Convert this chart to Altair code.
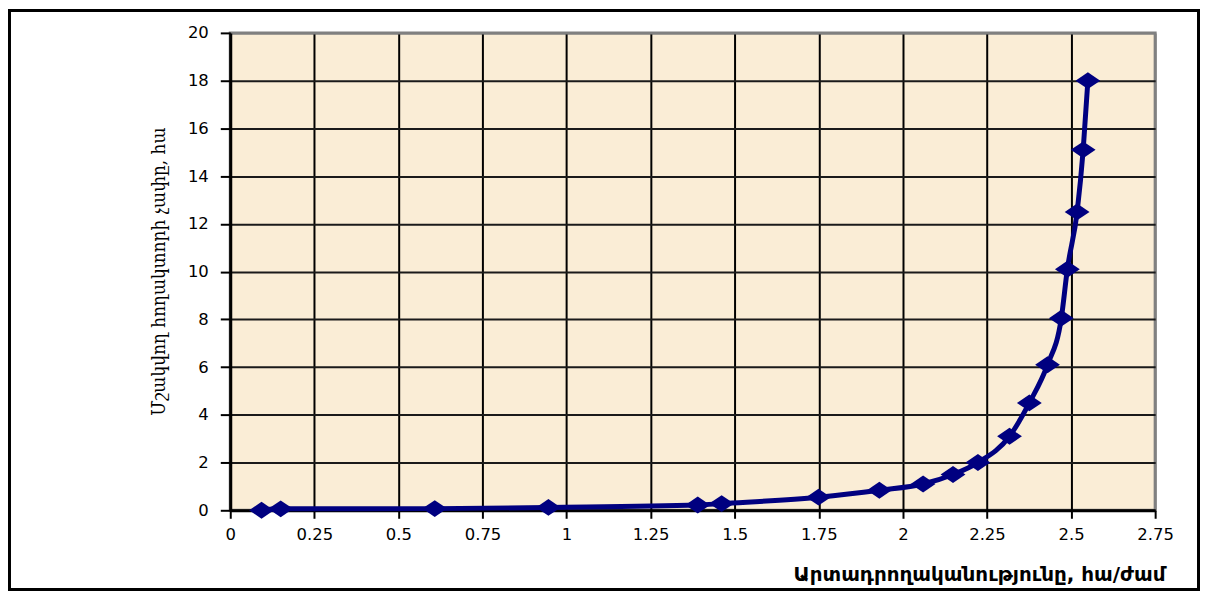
import altair as alt
import pandas as pd

# Productivity (ha/hour) and plot size (ha)
productivity = [0.093, 0.15, 0.608, 0.946, 1.39, 1.461, 1.749, 1.93, 2.06, 2.149,
                2.223, 2.317, 2.376, 2.43, 2.471, 2.489, 2.518, 2.536, 2.55]
plot_size = [0.0, 0.06, 0.07, 0.12, 0.22, 0.28, 0.55, 0.84, 1.1, 1.5,
             2.0, 3.1, 4.5, 6.1, 8.05, 10.1, 12.5, 15.1, 18.0]

x_ticks = [0, 0.25, 0.5, 0.75, 1, 1.25, 1.5, 1.75, 2, 2.25, 2.5, 2.75]
y_ticks = [0, 2, 4, 6, 8, 10, 12, 14, 16, 18, 20]

x_title = "Արտադրողականությունը, հա/ժամ"
y_title = "Մշակվող հողակտորի չափը, հա"

df = pd.DataFrame({"x": productivity, "y": plot_size})

NAVY = "#000080"
PLOT_BG = "#FAEDD6"

x_enc = alt.X(
    "x:Q",
    scale=alt.Scale(domain=[0, 2.75], nice=False, zero=False),
    axis=alt.Axis(
        values=x_ticks, format=".2~f", grid=True,
        gridColor={"condition": {"test": "datum.value >= 2.75", "value": "#808080"}, "value": "#000000"},
        gridWidth=2,
        domainColor="#000000", domainWidth=3,
        tickColor="#000000", tickWidth=2, tickSize=8,
        labelFont="DejaVu Sans", labelFontSize=16.5, labelColor="#000000", labelPadding=8,
        labelFlush=False,
        title=x_title, titleFont="DejaVu Sans", titleFontSize=20, titleFontWeight="bold",
        titleColor="#000000", titleX=938, titleY=70, titleAlign="right",
        titleBaseline="alphabetic", titleAnchor="end",
    ),
)
y_enc = alt.Y(
    "y:Q",
    scale=alt.Scale(domain=[0, 20], nice=False),
    axis=alt.Axis(
        values=y_ticks, grid=True,
        gridColor={"condition": {"test": "datum.value >= 20", "value": "#808080"}, "value": "#1a1a1a"},
        gridWidth=2,
        domainColor="#000000", domainWidth=3,
        tickColor="#000000", tickWidth=2, tickSize=10,
        labelFont="DejaVu Sans", labelFontSize=16.5, labelColor="#000000", labelPadding=12,
        title=y_title, titleFont="DejaVu Serif Condensed", titleFontSize=19,
        titleFontWeight="normal", titleColor="#000000",
        titleX=-72, titleY=239, titleAngle=270, titleBaseline="middle", titleAlign="center",
    ),
)

base = alt.Chart(df)
line = base.mark_line(color=NAVY, strokeWidth=5, interpolate="monotone").encode(x=x_enc, y=y_enc)
points = base.mark_point(
    shape="M-1,0L0,-0.68L1,0L0,0.68Z", size=620, filled=True, fill=NAVY, color=NAVY, opacity=1
).encode(x="x:Q", y="y:Q")

border = alt.Chart(pd.DataFrame({"a": [0]})).mark_rect(
    fill="transparent", stroke="#000000", strokeWidth=3
).encode(
    x=alt.value(-221.5), x2=alt.value(971.5), y=alt.value(-22.5), y2=alt.value(558.5)
)

chart = alt.layer(line, points, border).properties(
    width=928, height=479,
    padding={"left": 223, "top": 24, "right": 45, "bottom": 81},
    autosize="none",
).configure(
    background="#ffffff",
    view=alt.ViewConfig(fill=PLOT_BG, stroke="#808080", strokeWidth=3),
)

chart.save("out.html", embed_options={"renderer": "svg", "actions": False})
